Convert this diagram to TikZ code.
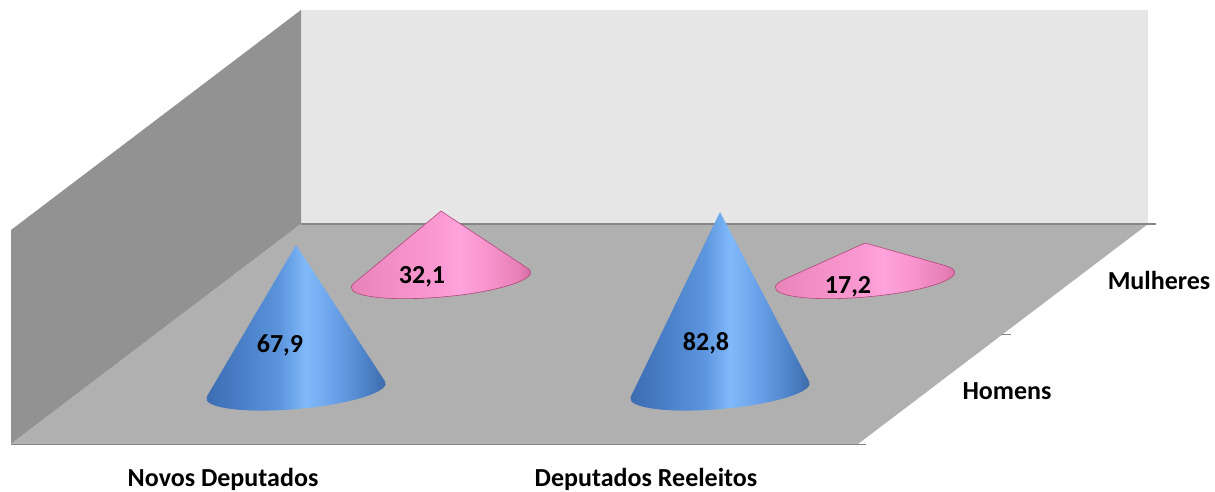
\documentclass[tikz,border=0pt]{standalone}
\usepackage{fontspec}
\setmainfont{Carlito}
\definecolor{backwall}{HTML}{E6E6E6}
\definecolor{sidewall}{HTML}{929292}
\definecolor{floorc}{HTML}{B0B0B0}
\definecolor{edgec}{HTML}{868686}
\definecolor{pinkedge}{HTML}{B04878}
\definecolor{bA}{HTML}{3A6AAE}
\definecolor{bB}{HTML}{4A80C8}
\definecolor{bC}{HTML}{5C95DD}
\definecolor{bD}{HTML}{80BAFA}
\definecolor{bE}{HTML}{6BA3EA}
\definecolor{bF}{HTML}{4A7FC4}
\definecolor{bG}{HTML}{3A68A5}
\definecolor{pA}{HTML}{E680B6}
\definecolor{pB}{HTML}{F08CC3}
\definecolor{pC}{HTML}{FA98D2}
\definecolor{pD}{HTML}{FFA3DC}
\definecolor{pE}{HTML}{F792CC}
\definecolor{pF}{HTML}{E57EB5}
\definecolor{pG}{HTML}{D06A9E}
\pgfdeclarehorizontalshading{bluecone}{100bp}{color(0bp)=(bA);color(25bp)=(bA);color(36bp)=(bB);color(46bp)=(bC);color(53bp)=(bD);color(60bp)=(bE);color(70bp)=(bF);color(75bp)=(bG);color(100bp)=(bG)}
\pgfdeclarehorizontalshading{pinkcone}{100bp}{color(0bp)=(pA);color(25bp)=(pA);color(35bp)=(pB);color(50bp)=(pC);color(56bp)=(pD);color(64bp)=(pE);color(72bp)=(pF);color(75bp)=(pG);color(100bp)=(pG)}
\tikzset{
  lbl/.style={font=\bfseries\fontsize{26}{30}\selectfont, anchor=base, inner sep=0pt},
  edgeline/.style={draw=edgec, line width=1.6pt},
}
% \drawcone{cx}{cy}{h}{rx}{ry}{shading}{extra}
\newcommand{\drawcone}[7]{%
  \pgfmathsetmacro{\tang}{asin(#5/#3)}%
  \begin{scope}[shift={(#1,#2)}, rotate=5]
    \path[shading=#6, #7] (95:#3) -- ({-#4*cos(\tang)},{#5*sin(\tang)})
      arc[start angle=180-\tang, end angle=360+\tang, x radius=#4, y radius=#5] -- cycle;
  \end{scope}}
\begin{document}
\begin{tikzpicture}[x=1pt,y=-1pt]
\useasboundingbox (0,0) rectangle (1215,492);
% walls and floor
\fill[backwall] (301,10) rectangle (1148,224);
\fill[sidewall] (11,230) -- (301,10) -- (301,224) -- (11,444) -- cycle;
\fill[floorc] (11,444) -- (301,224) -- (1148,224) -- (858,444) -- cycle;
\draw[edgeline] (301,224) -- (1156,224);
\draw[edgeline, line width=1pt] (11,444) -- (866,444);
\draw[edgec, line width=1pt] (1001,334) -- (1011,334);
% cones (y axis points down, so heights are negative)
\drawcone{441}{280}{-69}{90}{-17}{pinkcone}{draw=pinkedge, line width=0.6pt}
\drawcone{865}{280}{-37}{90}{-17}{pinkcone}{draw=pinkedge, line width=0.6pt}
\drawcone{296}{391}{-146}{90}{-18}{bluecone}{draw=none}
\drawcone{720}{391}{-179}{90}{-18}{bluecone}{draw=none}
% value labels
\node[lbl] (v1) at (280,352) {67,9};
\node[lbl] (v2) at (422,283) {32,1};
\node[lbl] (v3) at (706,350) {82,8};
\node[lbl] (v4) at (848,293) {17,2};
% axis labels
\node[lbl] (c1) at (223,486) {Novos Deputados};
\node[lbl] (c2) at (646,486) {Deputados Reeleitos};
\node[lbl] (s1) at (1007,399) {Homens};
\node[lbl] (s2) at (1159,289) {Mulheres};
\end{tikzpicture}
\end{document}
